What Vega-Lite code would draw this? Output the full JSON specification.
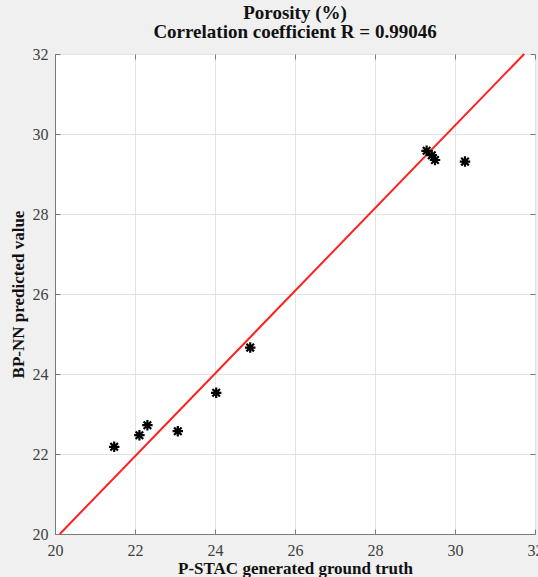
{
  "$schema": "https://vega.github.io/schema/vega-lite/v6.json",
  "width": 480,
  "height": 480,
  "autosize": {"type": "none"},
  "padding": {"left": 55, "top": 54, "right": 3, "bottom": 43},
  "background": "#f0f0f0",
  "title": {
    "text": ["Porosity (%)", "Correlation coefficient R = 0.99046"],
    "font": "Liberation Serif",
    "fontSize": 19,
    "fontWeight": "bold",
    "color": "#111111",
    "lineHeight": 19,
    "anchor": "middle",
    "offset": 4
  },
  "config": {
    "view": {"fill": "white", "stroke": "#7a7a7a", "strokeWidth": 1},
    "axis": {
      "labelFont": "Liberation Serif",
      "labelFontSize": 16,
      "labelColor": "#404040",
      "labelFlush": false,
      "titleFont": "Liberation Serif",
      "titleFontSize": 17,
      "titleFontWeight": "bold",
      "titleColor": "#111111",
      "gridColor": "#e3e3e3",
      "gridWidth": 1,
      "domainColor": "#7a7a7a",
      "tickColor": "#7a7a7a",
      "tickSize": -5
    }
  },
  "resolve": {"axis": {"x": "independent", "y": "independent"}},
  "datasets": {
    "points": [
      {"truth": 21.48, "pred": 22.18},
      {"truth": 22.11, "pred": 22.47},
      {"truth": 22.31, "pred": 22.72},
      {"truth": 23.07, "pred": 22.57},
      {"truth": 24.03, "pred": 23.53},
      {"truth": 24.88, "pred": 24.66},
      {"truth": 29.29, "pred": 29.58},
      {"truth": 29.42, "pred": 29.47},
      {"truth": 29.5, "pred": 29.35},
      {"truth": 30.25, "pred": 29.31}
    ],
    "fit": [
      {"truth": 20.12, "pred": 20},
      {"truth": 31.73, "pred": 32}
    ]
  },
  "layer": [
    {
      "data": {"name": "fit"},
      "mark": {"type": "line", "color": "#ff2020", "strokeWidth": 2},
      "encoding": {
        "x": {"field": "truth", "type": "quantitative", "scale": {"domain": [20, 32], "nice": false},
              "axis": {"title": "P-STAC generated ground truth", "values": [20, 22, 24, 26, 28, 30, 32], "labelPadding": 13, "titlePadding": 2}},
        "y": {"field": "pred", "type": "quantitative", "scale": {"domain": [20, 32], "nice": false},
              "axis": {"title": "BP-NN predicted value", "values": [20, 22, 24, 26, 28, 30, 32], "labelPadding": 12, "titlePadding": 5}}
      }
    },
    {
      "data": {"name": "points"},
      "mark": {
        "type": "point",
        "shape": "M-1,0L1,0M0,-1L0,1M-0.72,-0.72L0.72,0.72M-0.72,0.72L0.72,-0.72",
        "filled": false,
        "stroke": "black",
        "strokeWidth": 2.2,
        "size": 110,
        "opacity": 1
      },
      "encoding": {
        "x": {"field": "truth", "type": "quantitative",
              "axis": {"orient": "top", "title": null, "labels": false, "grid": false, "domain": false, "values": [20, 22, 24, 26, 28, 30, 32]}},
        "y": {"field": "pred", "type": "quantitative",
              "axis": {"orient": "right", "title": null, "labels": false, "grid": false, "domain": false, "values": [20, 22, 24, 26, 28, 30, 32]}}
      }
    }
  ]
}
